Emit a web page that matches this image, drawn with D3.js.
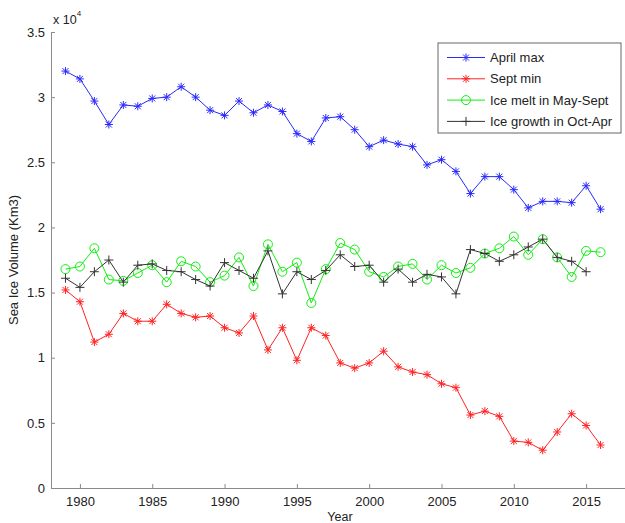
<!DOCTYPE html>
<meta charset="utf-8">
<style>
body { margin: 0; background: #fff; }
svg text { font-family: "Liberation Sans", Arial, sans-serif; fill: #222; }
</style>
<body>
<svg id="chart" width="625" height="523"></svg>
<script src="https://d3js.org/d3.v7.min.js"></script>
<script>

// values in Km3
var years = d3.range(1979, 2017);

var aprilMax = [32000, 31400, 29700, 27900, 29400, 29300, 29900, 30000, 30800, 30000,
                29000, 28600, 29700, 28800, 29400, 28900, 27200, 26600, 28400, 28500,
                27500, 26200, 26700, 26400, 26200, 24800, 25200, 24300, 22600, 23900,
                23900, 22900, 21500, 22000, 22000, 21900, 23200, 21400];

var septMin = [15200, 14300, 11200, 11800, 13400, 12800, 12800, 14100, 13400, 13100,
               13200, 12300, 11900, 13200, 10600, 12300, 9800, 12300, 11700, 9600,
               9200, 9600, 10500, 9300, 8900, 8700, 8000, 7700, 5600, 5900,
               5500, 3600, 3500, 2900, 4300, 5700, 4800, 3300];

var iceMelt = [16800, 17000, 18400, 16000, 15900, 16500, 17100, 15800, 17400, 17000,
               15800, 16300, 17700, 15500, 18700, 16600, 17300, 14200, 16800, 18800,
               18300, 16600, 16200, 17000, 17200, 16000, 17100, 16500, 16900, 18000,
               18400, 19300, 17900, 19100, 17700, 16200, 18200, 18100];

// no value for 2016
var iceGrowth = [16100, 15400, 16600, 17500, 15800, 17100, 17200, 16700, 16600, 16000,
                 15500, 17300, 16700, 16100, 18200, 14900, 16600, 16000, 16700, 17900,
                 17000, 17100, 15800, 16800, 15800, 16400, 16200, 14900, 18300, 18000,
                 17400, 17900, 18500, 19100, 17700, 17400, 16600, null];

var seriesNames = ["April max", "Sept min", "Ice melt in May-Sept", "Ice growth in Oct-Apr"];
var seriesColors = ["#2a2aff", "#ff2222", "#11ee11", "#333"];
var seriesMarkers = ["star", "star", "circle", "plus"];
var seriesValues = [aprilMax, septMin, iceMelt, iceGrowth];

var xTicks = [1980, 1985, 1990, 1995, 2000, 2005, 2010, 2015];
var yTicks = [0, 5000, 10000, 15000, 20000, 25000, 30000, 35000];

var svg = d3.select("#chart");

var x = d3.scaleLinear().domain([1978, 2018]).range([51, 629.5]);
var y = d3.scaleLinear().domain([0, 35000]).range([488, 32]);

// axes, ticks pointing inside like matlab
var xAxis = d3.axisBottom(x).tickValues(xTicks).tickSizeInner(-4).tickSizeOuter(0)
              .tickPadding(9).tickFormat(d3.format("d"));
var yAxis = d3.axisLeft(y).tickValues(yTicks).tickSizeInner(-4).tickSizeOuter(0)
              .tickPadding(6).tickFormat(d => d / 10000);

var gx = svg.append("g").attr("transform", "translate(0,488)").call(xAxis);
var gy = svg.append("g").attr("transform", "translate(51,0)").call(yAxis);

[gx, gy].forEach(g => {
  g.select(".domain").attr("stroke", "#8a8a8a");
  g.selectAll(".tick line").attr("stroke", "#8a8a8a");
  g.selectAll(".tick text").attr("font-size", 13).style("font-family", "Liberation Sans, Arial, sans-serif").attr("fill", "#222");
});

// exponent label
var expo = svg.append("text").attr("x", 53).attr("y", 24).attr("font-size", 12.5);
expo.append("tspan").text("x 10");
expo.append("tspan").attr("dy", -8).attr("font-size", 8).text("4");

svg.append("text")
   .attr("transform", "translate(18,260) rotate(-90)")
   .attr("text-anchor", "middle")
   .attr("font-size", 13)
   .text("Sea Ice Volume (Km3)");

svg.append("text")
   .attr("x", 340).attr("y", 521)
   .attr("text-anchor", "middle")
   .attr("font-size", 12.5)
   .text("Year");

function drawMarker(g, type, color) {
  if (type == "circle") {
    g.append("circle").attr("r", 4.5).attr("fill", "none").attr("stroke", color);
  } else if (type == "plus") {
    g.append("path").attr("d", "M-4.5,0H4.5M0,-4.5V4.5").attr("stroke", color);
  } else {
    g.append("path").attr("d", "M-4,0H4M0,-4V4M-3,-3L3,3M-3,3L3,-3").attr("stroke", color);
  }
}

var line = d3.line()
             .defined(d => d[1] != null)
             .x(d => x(d[0]))
             .y(d => y(d[1]));

seriesValues.forEach((vals, i) => {
  var pts = years.map((yr, j) => [yr, vals[j]]);
  svg.append("path")
     .attr("d", line(pts))
     .attr("fill", "none")
     .attr("stroke", seriesColors[i])
     .attr("stroke-width", 1);
  svg.selectAll(null)
     .data(pts.filter(d => d[1] != null))
     .enter().append("g")
     .attr("transform", d => "translate(" + x(d[0]) + "," + y(d[1]) + ")")
     .each(function() { drawMarker(d3.select(this), seriesMarkers[i], seriesColors[i]); });
});

// legend
var legend = svg.append("g").attr("transform", "translate(438,43)");
legend.append("rect")
      .attr("width", 183).attr("height", 90)
      .attr("fill", "#fff").attr("stroke", "#666");
seriesNames.forEach((name, i) => {
  var ly = 14.5 + i * 21.3;
  legend.append("line")
        .attr("x1", 9).attr("x2", 47).attr("y1", ly).attr("y2", ly)
        .attr("stroke", seriesColors[i]);
  drawMarker(legend.append("g").attr("transform", "translate(28," + ly + ")"), seriesMarkers[i], seriesColors[i]);
  legend.append("text")
        .attr("x", 52).attr("y", ly + 4.5)
        .attr("font-size", 13)
        .text(name);
});

</script>
</body>
